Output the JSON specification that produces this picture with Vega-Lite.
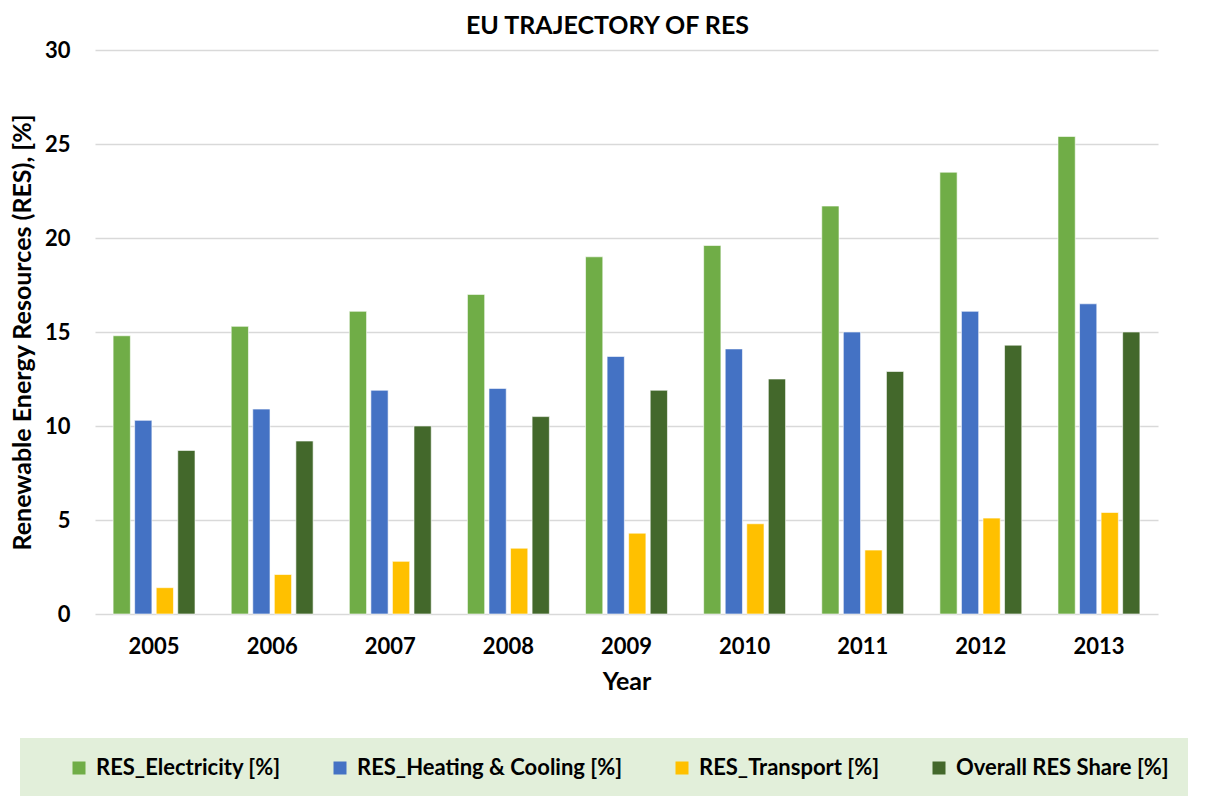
{
  "$schema": "https://vega.github.io/schema/vega-lite/v6.json",
  "width": 1063,
  "height": 564,
  "autosize": "none",
  "padding": {"left": 95, "top": 50, "right": 49, "bottom": 182},
  "background": "white",
  "title": {
    "text": "EU TRAJECTORY OF RES",
    "font": "Lato",
    "fontSize": 25,
    "fontWeight": "bold",
    "color": "#000000",
    "anchor": "middle",
    "dx": -19,
    "offset": 0
  },
  "config": {
    "view": {"stroke": null},
    "font": "Lato",
    "axis": {
      "labelFont": "Lato",
      "titleFont": "Lato",
      "labelFontWeight": "bold",
      "titleFontWeight": "bold",
      "labelColor": "#000000",
      "titleColor": "#000000",
      "labelFontSize": 22,
      "titleFontSize": 25
    },
    "legend": {
      "labelFont": "Lato",
      "labelFontWeight": "bold",
      "labelFontSize": 22,
      "labelColor": "#000000"
    }
  },
  "data": {
    "values": [
      {"year": "2005", "series": "RES_Electricity [%]", "value": 14.8},
      {"year": "2005", "series": "RES_Heating & Cooling [%]", "value": 10.3},
      {"year": "2005", "series": "RES_Transport [%]", "value": 1.4},
      {"year": "2005", "series": "Overall RES Share [%]", "value": 8.7},
      {"year": "2006", "series": "RES_Electricity [%]", "value": 15.3},
      {"year": "2006", "series": "RES_Heating & Cooling [%]", "value": 10.9},
      {"year": "2006", "series": "RES_Transport [%]", "value": 2.1},
      {"year": "2006", "series": "Overall RES Share [%]", "value": 9.2},
      {"year": "2007", "series": "RES_Electricity [%]", "value": 16.1},
      {"year": "2007", "series": "RES_Heating & Cooling [%]", "value": 11.9},
      {"year": "2007", "series": "RES_Transport [%]", "value": 2.8},
      {"year": "2007", "series": "Overall RES Share [%]", "value": 10.0},
      {"year": "2008", "series": "RES_Electricity [%]", "value": 17.0},
      {"year": "2008", "series": "RES_Heating & Cooling [%]", "value": 12.0},
      {"year": "2008", "series": "RES_Transport [%]", "value": 3.5},
      {"year": "2008", "series": "Overall RES Share [%]", "value": 10.5},
      {"year": "2009", "series": "RES_Electricity [%]", "value": 19.0},
      {"year": "2009", "series": "RES_Heating & Cooling [%]", "value": 13.7},
      {"year": "2009", "series": "RES_Transport [%]", "value": 4.3},
      {"year": "2009", "series": "Overall RES Share [%]", "value": 11.9},
      {"year": "2010", "series": "RES_Electricity [%]", "value": 19.6},
      {"year": "2010", "series": "RES_Heating & Cooling [%]", "value": 14.1},
      {"year": "2010", "series": "RES_Transport [%]", "value": 4.8},
      {"year": "2010", "series": "Overall RES Share [%]", "value": 12.5},
      {"year": "2011", "series": "RES_Electricity [%]", "value": 21.7},
      {"year": "2011", "series": "RES_Heating & Cooling [%]", "value": 15.0},
      {"year": "2011", "series": "RES_Transport [%]", "value": 3.4},
      {"year": "2011", "series": "Overall RES Share [%]", "value": 12.9},
      {"year": "2012", "series": "RES_Electricity [%]", "value": 23.5},
      {"year": "2012", "series": "RES_Heating & Cooling [%]", "value": 16.1},
      {"year": "2012", "series": "RES_Transport [%]", "value": 5.1},
      {"year": "2012", "series": "Overall RES Share [%]", "value": 14.3},
      {"year": "2013", "series": "RES_Electricity [%]", "value": 25.4},
      {"year": "2013", "series": "RES_Heating & Cooling [%]", "value": 16.5},
      {"year": "2013", "series": "RES_Transport [%]", "value": 5.4},
      {"year": "2013", "series": "Overall RES Share [%]", "value": 15.0}
    ]
  },
  "mark": {"type": "bar", "stroke": "#ffffff", "strokeWidth": 0.6},
  "encoding": {
    "x": {
      "field": "year",
      "type": "nominal",
      "title": "Year",
      "scale": {"paddingInner": 0.27, "paddingOuter": 0.135},
      "axis": {
        "labelAngle": 0,
        "domain": false,
        "ticks": false,
        "labelPadding": 22,
        "titlePadding": 12
      }
    },
    "xOffset": {
      "field": "series",
      "type": "nominal",
      "sort": ["RES_Electricity [%]", "RES_Heating & Cooling [%]", "RES_Transport [%]", "Overall RES Share [%]"],
      "scale": {"paddingInner": 0.2, "paddingOuter": 0.1}
    },
    "y": {
      "field": "value",
      "type": "quantitative",
      "title": "Renewable Energy Resources (RES), [%]",
      "scale": {"domain": [0, 30]},
      "axis": {
        "values": [0, 5, 10, 15, 20, 25, 30],
        "domain": false,
        "ticks": false,
        "grid": true,
        "gridColor": "#D9D9D9",
        "gridWidth": 1.5,
        "labelPadding": 25,
        "titlePadding": 9
      }
    },
    "color": {
      "field": "series",
      "type": "nominal",
      "sort": ["RES_Electricity [%]", "RES_Heating & Cooling [%]", "RES_Transport [%]", "Overall RES Share [%]"],
      "scale": {
        "domain": ["RES_Electricity [%]", "RES_Heating & Cooling [%]", "RES_Transport [%]", "Overall RES Share [%]"],
        "range": ["#70AD47", "#4472C4", "#FFC000", "#43682B"]
      },
      "legend": {
        "title": null,
        "orient": "none",
        "direction": "horizontal",
        "columns": 4,
        "legendX": -75,
        "legendY": 688,
        "fillColor": "#E2EFDA",
        "padding": 19,
        "columnPadding": 19,
        "symbolOffset": 29,
        "symbolType": "square",
        "symbolSize": 169,
        "symbolStrokeWidth": 0,
        "symbolOpacity": 1,
        "labelOffset": 6,
        "labelLimit": 400
      }
    }
  }
}
